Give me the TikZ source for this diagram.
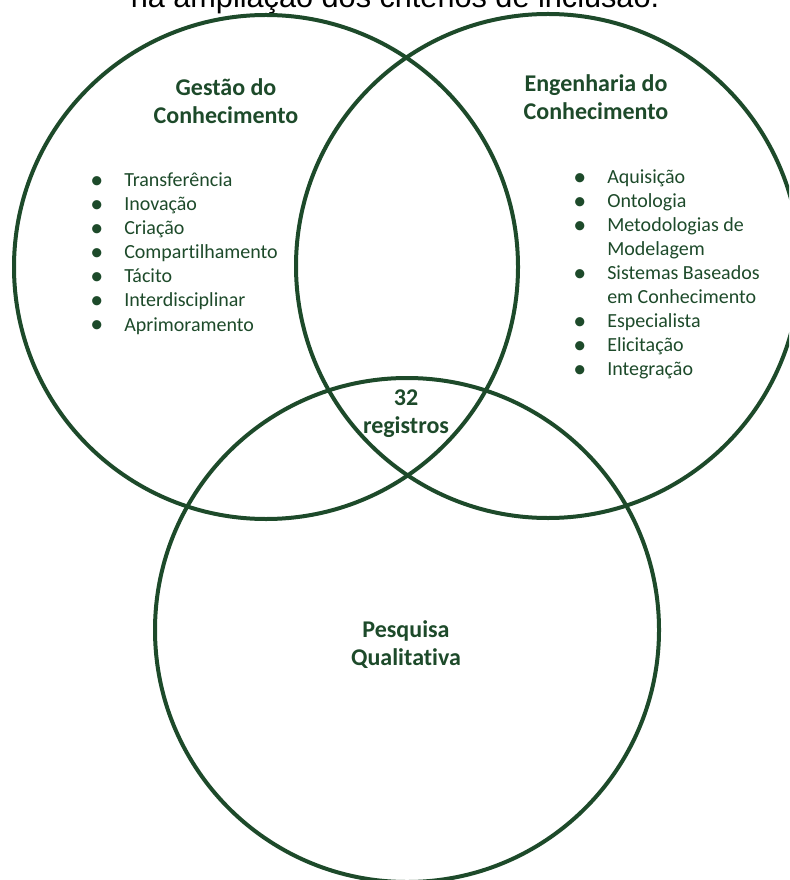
\documentclass[tikz,border=0pt]{standalone}
\usepackage{fontspec}
\setmainfont{Carlito}[Ligatures={NoCommon,NoDiscretionary,NoRare}]
\newfontfamily\captionfont{Liberation Sans}
\usetikzlibrary{positioning}
\definecolor{venngreen}{HTML}{1D4A2A}
\newcommand{\vbul}{\raisebox{-1pt}{\scalebox{1.3}{\textbullet}}}

\begin{document}
\begin{tikzpicture}[
    x=0.75pt, y=-0.75pt,
    venn/.style={circle, draw=venngreen, line width=3pt, minimum size=378pt, inner sep=0pt},
    title/.style={font=\bfseries\fontsize{18}{21}\selectfont, text=venngreen, inner sep=0pt, anchor=base},
    items/.style={font=\fontsize{15}{18}\selectfont, text=venngreen, inner sep=0pt, anchor=base west}
]
    \useasboundingbox (0,0) rectangle (789,880);
    \clip (0,0) rectangle (789,880);

    % Caption cut off at the top
    \node[font=\captionfont\fontsize{23}{26}\selectfont, anchor=base, inner sep=0pt] (caption) at (395,8) {na ampliação dos critérios de inclusão.};

    % Circles
    \node[venn] (gestao) at (266,267) {};
    \node[venn] (engenharia) at (548,266) {};
    \node[venn] (pesquisa) at (407,630) {};

    % Titles
    \node[title] (gestaoTitle) at (226,96) {\begin{tabular}[t]{@{}c@{}}Gestão do\\Conhecimento\end{tabular}};
    \node[title] (engTitle) at (596,92) {\begin{tabular}[t]{@{}c@{}}Engenharia do\\Conhecimento\end{tabular}};
    \node[title] (registros) at (406,405) {\begin{tabular}[t]{@{}c@{}}32\\registros\end{tabular}};
    \node[title] (pesqTitle) at (406,637) {\begin{tabular}[t]{@{}c@{}}Pesquisa\\Qualitativa\end{tabular}};

    % Lists
    \node[items] (gestaoList) at (90,187) {\begin{tabular}[t]{@{}p{25.5pt}@{}l@{}}
        \vbul & Transferência\\
        \vbul & Inovação\\
        \vbul & Criação\\
        \vbul & Compartilhamento\\
        \vbul & Tácito\\
        \vbul & Interdisciplinar\\
        \vbul & Aprimoramento
    \end{tabular}};
    \node[items] (engList) at (573,184) {\begin{tabular}[t]{@{}p{25.5pt}@{}l@{}}
        \vbul & Aquisição\\
        \vbul & Ontologia\\
        \vbul & Metodologias de\\
              & Modelagem\\
        \vbul & Sistemas Baseados\\
              & em Conhecimento\\
        \vbul & Especialista\\
        \vbul & Elicitação\\
        \vbul & Integração
    \end{tabular}};
\end{tikzpicture}
\end{document}
